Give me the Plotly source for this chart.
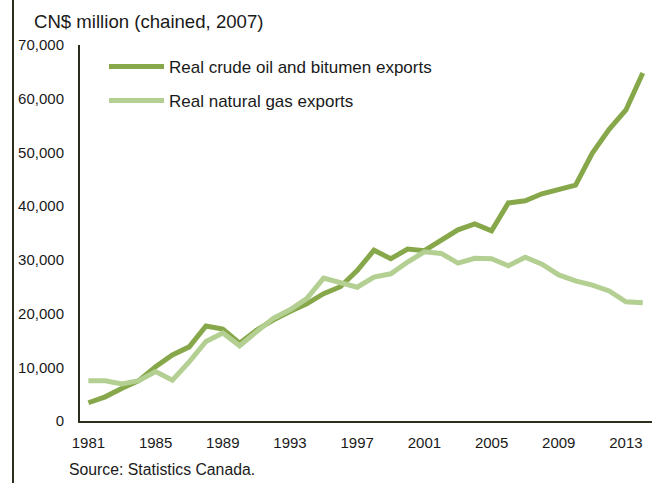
import plotly.graph_objects as go

years = list(range(1981, 2015))
oil = [3400, 4500, 6100, 7500, 10100, 12300, 13800, 17700, 17100, 14500,
       16900, 18800, 20400, 21800, 23700, 25000, 28000, 31800, 30200, 32000,
       31700, 33700, 35600, 36700, 35400, 40600, 41000, 42300, 43200, 43900,
       49900, 54300, 57900, 64800]
gas = [7500, 7500, 6900, 7500, 9200, 7600, 11000, 14800, 16400, 14000,
       16600, 19100, 20700, 22800, 26600, 25800, 24900, 26800, 27400, 29600,
       31500, 31200, 29400, 30300, 30200, 28900, 30500, 29200, 27200, 26100,
       25300, 24200, 22200, 22000]
tick_years = [1981, 1985, 1989, 1993, 1997, 2001, 2005, 2009, 2013]
y_ticks = [0, 10000, 20000, 30000, 40000, 50000, 60000, 70000]

oil_color = "#87A84A"
gas_color = "#B3CF92"
axis_color = "#2B2D1E"
text_color = "#1a1a1a"
font = "Liberation Sans, Arial, sans-serif"

L, R, T, B = 80, 20, 45, 62
PW, PH = 672 - L - R, 483 - T - B

fig = go.Figure()
fig.add_trace(go.Scatter(x=years, y=oil, mode="lines", name="Real crude oil and bitumen exports",
                         line=dict(color=oil_color, width=5), legend="legend"))
fig.add_trace(go.Scatter(x=years, y=gas, mode="lines", name="Real natural gas exports",
                         line=dict(color=gas_color, width=5), legend="legend2"))

leg_common = dict(xanchor="left", yanchor="middle", bgcolor="rgba(0,0,0,0)",
                  font=dict(size=17, color=text_color), itemwidth=55)

fig.update_layout(
    width=672, height=483,
    margin=dict(l=L, r=R, t=T, b=B),
    paper_bgcolor="white", plot_bgcolor="white",
    font=dict(family=font, size=15, color=text_color),
    showlegend=True,
    legend=dict(x=(104 - L) / PW, y=1 - (67 - T) / PH, **leg_common),
    legend2=dict(x=(104 - L) / PW, y=1 - (101 - T) / PH, **leg_common),
    xaxis=dict(range=[1980.5, 2014.55], tickvals=tick_years, ticktext=[str(t) for t in tick_years],
               showgrid=False, zeroline=False, showline=True, linecolor=axis_color, linewidth=2,
               ticks="", ticklabelstandoff=7, tickfont=dict(size=15, color=text_color)),
    yaxis=dict(range=[0, 70000], tickvals=y_ticks, ticktext=[f"{v:,}" for v in y_ticks],
               showgrid=False, zeroline=False, showline=True, linecolor=axis_color, linewidth=2,
               ticks="", ticklabelstandoff=11, tickfont=dict(size=15, color=text_color)),
)

fig.add_annotation(text="CN$ million (chained, 2007)", xref="paper", yref="paper",
                   x=(32 - L) / PW, y=1 + (T - 21) / PH, xanchor="left", yanchor="middle",
                   showarrow=False, font=dict(size=18.6, color=text_color))
fig.add_annotation(text="Source: Statistics Canada.", xref="paper", yref="paper",
                   x=(67 - L) / PW, y=-(469 - 421) / PH, xanchor="left", yanchor="middle",
                   showarrow=False, font=dict(size=15.8, color=text_color))
fig.add_shape(type="line", xref="paper", yref="paper",
              x0=(13 - L) / PW, x1=(13 - L) / PW, y0=-B / PH - 0.01, y1=1 + T / PH + 0.01,
              line=dict(color=axis_color, width=2))

fig.write_html("out.html", config={"displayModeBar": False},
               post_script="document.body.style.margin='0';document.body.style.overflow='hidden';")
